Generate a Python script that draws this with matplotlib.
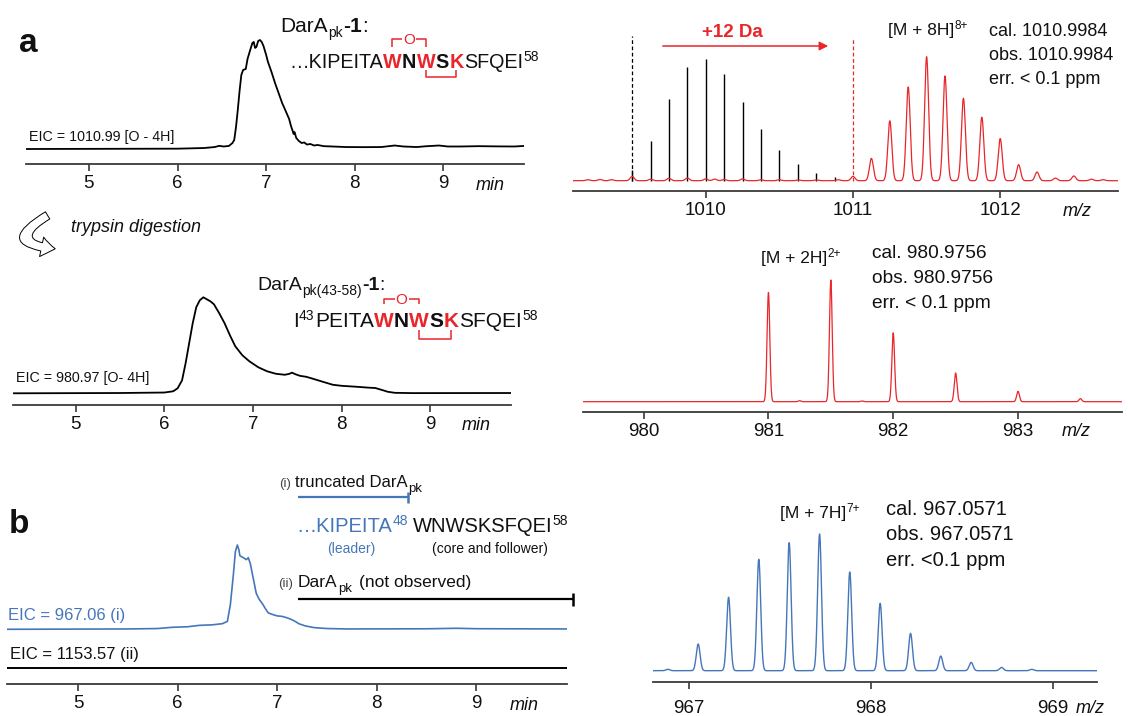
import matplotlib
matplotlib.use('Agg')
import numpy as np
import matplotlib.pyplot as plt
from matplotlib.lines import Line2D
from matplotlib.patches import FancyArrowPatch
from matplotlib.transforms import IdentityTransform

plt.rcParams['font.family'] = ['Liberation Sans', 'DejaVu Sans']

RED = '#e8262b'
BLUE = '#4676ba'
AXC = '#3a3a3a'
INK = '#111111'

# ---------------- chromatograms (time / min, intensity in % of panel max)
t_a1 = [4.29, 6.00, 6.30, 6.42, 6.47, 6.52, 6.58, 6.62, 6.64, 6.66, 6.68, 6.70,
        6.72, 6.74, 6.77, 6.79, 6.82, 6.845, 6.86, 6.875, 6.89, 6.91, 6.93, 6.95,
        6.97, 7.00, 7.02, 7.06, 7.10, 7.14, 7.18, 7.21, 7.24, 7.26, 7.28, 7.30,
        7.31, 7.32, 7.34, 7.37, 7.40, 7.43, 7.46, 7.50, 7.54, 7.58, 7.65, 7.75,
        7.90, 8.10, 8.30, 8.45, 8.55, 8.70, 8.80, 8.95, 9.05, 9.20, 9.40, 9.60,
        9.80, 9.91]
i_a1 = [0, 0.3, 0.9, 1.8, 2.9, 2.3, 2.8, 5.5, 8.3, 20.2, 35.8, 53.2,
        67.9, 72.5, 73.4, 82.6, 90.8, 97.2, 98.2, 92.7, 93.6, 99.1, 100, 98.2,
        94.5, 86.4, 80, 70.8, 60.6, 51.5, 42.3, 36.8, 31.2, 27.4, 21.2, 16.4,
        13.8, 15.6, 10.1, 7.3, 5.5, 6, 4.1, 4.6, 3.2, 3.7, 2.6, 2.3,
        1.8, 1.7, 1.8, 3.2, 2.3, 1.8, 2.5, 3.2, 2.3, 2.3, 2.6, 2.4,
        2.3, 2.8]

t_a2 = [4.29, 5.50, 6.00, 6.10, 6.15, 6.20, 6.24, 6.28, 6.32, 6.36, 6.40, 6.44,
        6.48, 6.52, 6.56, 6.62, 6.68, 6.74, 6.80, 6.88, 6.96, 7.06, 7.16, 7.26,
        7.36, 7.41, 7.44, 7.48, 7.53, 7.60, 7.66, 7.77, 7.90, 8.00, 8.17, 8.30,
        8.38, 8.45, 8.52, 8.60, 8.80, 9.91]
i_a2 = [0, 0.3, 0.8, 2.1, 5.2, 13.5, 31.3, 52.1, 72.9, 89.6, 96.9, 100,
        97.9, 95.8, 92.7, 83.3, 72.9, 60.4, 49, 39.6, 33.3, 27.1, 22.9, 20.3,
        19.3, 20.3, 21.5, 19.8, 18.2, 17.2, 15.6, 12.5, 8.9, 7.8, 6.8, 5.9,
        5.5, 3.6, 1.6, 0.5, 0.2, 0.3]

t_b1 = [4.29, 5.50, 5.80, 5.95, 6.10, 6.22, 6.35, 6.45, 6.50, 6.53, 6.56, 6.58,
        6.60, 6.615, 6.625, 6.64, 6.66, 6.69, 6.71, 6.73, 6.75, 6.77, 6.79, 6.82,
        6.85, 6.88, 6.91, 6.95, 7.00, 7.05, 7.10, 7.14, 7.18, 7.22, 7.28, 7.37,
        7.50, 7.70, 8.50, 8.80, 9.00, 9.91]
i_b1 = [0, 0.4, 0.9, 2.4, 3, 4.7, 5.3, 6.7, 9.4, 29.5, 64.9, 92.1,
        100, 94.5, 87.4, 86.2, 85, 82.6, 85, 77.9, 66.1, 54.3, 42.5, 35.4,
        30.7, 24.8, 19.5, 17.7, 15.9, 15.3, 13.6, 11.8, 9.4, 6.5, 4.1, 2,
        0.9, 0.4, 0.6, 1.2, 0.7, 0.4]
t_b2 = [4.29, 9.91]
i_b2 = [0, 0]

min_ticks = [5, 6, 7, 8, 9]

# ---------------- mass spectra (m/z, intensity in % of panel max)
mz_theo = [1009.5, 1009.625, 1009.75, 1009.875, 1010.0, 1010.125, 1010.25,
           1010.375, 1010.5, 1010.625, 1010.75, 1010.875]
int_theo = [8.8, 32.4, 66.0, 92.0, 97.9, 85.8, 63.8, 41.8, 24.7, 13.1, 6.4, 2.9]

mz_a1 = [1011.0, 1011.125, 1011.25, 1011.375, 1011.5, 1011.625, 1011.75,
         1011.875, 1012.0, 1012.125, 1012.25, 1012.375, 1012.5]
int_a1 = [3.5, 18.0, 48.3, 75.6, 100, 84.5, 66.5, 51.2, 34.0, 12.9, 7.0, 2.1, 3.8]
mz_a1_minor = [1009.20, 1009.28, 1009.36, 1009.5, 1009.625, 1009.75, 1009.875,
               1010.0, 1010.06, 1010.125, 1010.25, 1010.375, 1010.5, 1010.63,
               1010.75, 1010.9, 1012.62, 1012.70]
int_a1_minor = [0.8, 1.0, 0.8, 3.5, 1.2, 2.0, 2.2, 1.5, 1.3, 1.0, 1.5, 0.8,
                0.8, 0.6, 0.6, 0.8, 1.2, 0.8]
mz_marks = [1009.5, 1011.0]

mz_a2 = [981.0, 981.25, 981.5, 981.75, 982.0, 982.5, 983.0, 983.5]
int_a2 = [89.8, 0.8, 100, 0.6, 56.6, 23.6, 8.5, 2.5]

mz_b = [966.883, 967.05, 967.217, 967.383, 967.55, 967.717, 967.883, 968.05,
        968.217, 968.383, 968.55, 968.717, 968.883]
int_b = [1.0, 19.5, 53.7, 81.5, 93.7, 100, 72.2, 49.3, 27.3, 10.7, 6.1, 2.4, 1.0]

W, H = 1128, 716
fig = plt.figure(figsize=(W / 100, H / 100), dpi=100)
PX = IdentityTransform()
R = fig.canvas.get_renderer()
TICK_FS = 13.5


def put(x, y, s, size, **kw):
    kw.setdefault('color', INK)
    kw.setdefault('va', 'baseline')
    return fig.text(x, H - y, s, transform=PX, fontsize=size, **kw)


def rich(x, y, parts, size, color=INK):
    # parts: (text, style) ; text None means a gap in px
    spans = []
    for s, st in parts:
        st = dict(st)
        if s is None:
            x += st['gap']
            spans.append((x, x))
            continue
        fs = st.pop('size', size)
        dy = st.pop('dy', 0)
        st.setdefault('color', color)
        t = fig.text(x, H - y + dy, s, transform=PX, fontsize=fs,
                     va='baseline', ha='left', **st)
        w = t.get_window_extent(R).width
        spans.append((x, x + w))
        x += w + 0.3
    return spans


def pline(xs, ys, color, lw):
    fig.add_artist(Line2D(xs, [H - v for v in ys], transform=PX, color=color,
                          lw=lw, solid_capstyle='butt'))


def panel(x0, x1, y_axis, y_base, y_peak, y_top, xlim, ticks, pad):
    ax = fig.add_axes([x0 / W, (H - y_axis) / H, (x1 - x0) / W, (y_axis - y_top) / H])
    k = (y_base - y_peak) / 100.0
    ax.set_ylim(-(y_axis - y_base) / k, (y_base - y_top) / k)
    ax.set_xlim(xlim)
    for s in ['left', 'right', 'top']:
        ax.spines[s].set_visible(False)
    ax.spines['bottom'].set_color(AXC)
    ax.spines['bottom'].set_linewidth(1.3)
    ax.set_yticks([])
    ax.set_xticks(ticks)
    ax.set_xticklabels([str(v) for v in ticks])
    ax.tick_params(axis='x', length=5, width=1.2, color=AXC, labelsize=TICK_FS,
                   pad=pad, labelcolor=INK)
    ax.patch.set_alpha(0)
    return ax, k


def profile(ax, mz, inten, sigma, color, lw):
    x = np.linspace(ax.get_xlim()[0], ax.get_xlim()[1], 4000)
    y = np.zeros_like(x)
    for m, h in zip(mz, inten):
        y += h * np.exp(-0.5 * ((x - m) / sigma) ** 2)
    ax.plot(x, y, color=color, lw=lw)


# ---------------- panel a, chromatograms
ax1, k1 = panel(26, 524, 164, 149, 40, 20, (4.29, 9.91), min_ticks, 3.0)
ax1.plot(t_a1, i_a1, color='black', lw=1.3)
put(490, 190, 'min', 13, ha='center', style='italic')
put(28.6, 140.7, 'EIC = 1010.99 [O - 4H]', 10.3)

ax2, k2 = panel(12.7, 511, 405.3, 393.3, 297.3, 280, (4.29, 9.91), min_ticks, 3.0)
ax2.plot(t_a2, i_a2, color='black', lw=1.3)
put(476, 430.5, 'min', 13, ha='center', style='italic')
put(16, 381.7, 'EIC = 980.97 [O- 4H]', 10.3)

# ---------------- panel b, chromatograms
ax3, k3 = panel(7.3, 567, 684, 629.3, 545, 530, (4.29, 9.91), min_ticks, 3.0)
ax3.plot(t_b1, i_b1, color=BLUE, lw=1.2)
off = -(667.7 - 629.3) / k3
ax3.plot(t_b2, [v + off for v in i_b2], color='black', lw=1.4)
put(524, 709.5, 'min', 13, ha='center', style='italic')
put(8.4, 620, 'EIC = 967.06 (i)', 12, color=BLUE)
put(10, 659.3, 'EIC = 1153.57 (ii)', 12)

# ---------------- spectra
ax4, k4 = panel(572.7, 1118, 191, 180.7, 56.7, 25, (1009.096, 1012.80),
                [1010, 1011, 1012], 3.0)
ax4.vlines(mz_theo, 0, int_theo, color='black', lw=1.0)
profile(ax4, mz_a1 + mz_a1_minor, int_a1 + int_a1_minor, 0.0135, RED, 0.9)
ax4.vlines(mz_marks[0], 0, (180.7 - 36) / k4, color='black', lw=0.9,
           linestyles=(0, (3, 2)))
ax4.vlines(mz_marks[1], 0, (180.7 - 38) / k4, color=RED, lw=0.9,
           linestyles=(0, (3, 2)))
put(1077, 216.5, 'm/z', 13, ha='center', style='italic')

ax5, k5 = panel(582.5, 1121.6, 411.7, 401.7, 280, 270, (979.51, 983.83),
                [980, 981, 982, 983], 3.0)
profile(ax5, mz_a2, int_a2, 0.011, RED, 0.9)
put(1076.7, 436.5, 'm/z', 13, ha='center', style='italic')

ax6, k6 = panel(652.7, 1096.7, 681.7, 670.7, 534, 520, (966.80, 969.24),
                [967, 968, 969], 8.0)
profile(ax6, mz_b, int_b, 0.0105, BLUE, 1.0)
put(1090, 713, 'm/z', 13, ha='center', style='italic')

# ---------------- panel letters
put(19, 51.7, 'a', 24, weight='bold')
put(8.4, 533, 'b', 24, weight='bold')

# ---------------- sequence labels, panel a
B = {'weight': 'bold'}
RB = {'weight': 'bold', 'color': RED}
SUP = {'size': 10, 'dy': 7}

rich(280, 31.7, [('DarA', {}), ('pk', {'size': 10, 'dy': -5}), ('-1', B), (':', {})], 15)
sp = rich(289, 68.3, [('\u2026KIPEITA', {}), ('W', RB), ('N', B), ('W', RB), ('S', B),
                      ('K', RB), ('SFQEI', {}), ('58', SUP)], 14.2)


def brackets(sp, base, up_h, up_v, lo_v, lo_h):
    w1 = sum(sp[1]) / 2
    w2 = sum(sp[3]) / 2
    kk = sum(sp[5]) / 2
    mid = (w1 + w2) / 2
    pline([w1, w1, mid - 7], [base - up_v, base - up_h, base - up_h], RED, 1.1)
    pline([mid + 7, w2, w2], [base - up_h, base - up_h, base - up_v], RED, 1.1)
    put(mid, base - up_h + 4.5, 'O', 11, color=RED, ha='center')
    pline([w2, w2, kk, kk], [base + lo_v, base + lo_h, base + lo_h, base + lo_v], RED, 1.1)


brackets(sp, 68.3, 29, 21.6, 1.7, 9)

rich(257, 290, [('DarA', {}), ('pk(43-58)', {'size': 10, 'dy': -5}), ('-1', B),
                (':', {})], 14)
sp2 = rich(293, 327.3, [('I', {}), ('43', SUP), ('PEITA', {}), ('W', RB), ('N', B),
                        ('W', RB), ('S', B), ('K', RB), ('SFQEI', {}), ('58', SUP)], 15)
brackets([sp2[0]] + sp2[3:], 327.3, 28, 23.3, 2.7, 11.7)

# trypsin step
fig.add_artist(FancyArrowPatch((50, H - 214), (58, H - 249), transform=PX,
                               connectionstyle='arc3,rad=1.6',
                               arrowstyle='simple,head_width=1.3,head_length=0.9,tail_width=0.55',
                               mutation_scale=11, facecolor='white',
                               edgecolor='black', lw=0.7))
put(71.4, 232, 'trypsin digestion', 13, style='italic')

# ---------------- panel b labels
rich(279, 487, [('(i)', {'size': 9.5, 'color': '#444444'}), (None, {'gap': 4}),
                ('truncated DarA', {}), ('pk', {'size': 9.5, 'dy': -5})], 12)
pline([297.7, 407.6], [497.3, 497.3], BLUE, 1.6)
pline([407.6, 407.6], [491.5, 503], BLUE, 1.8)
rich(296.6, 531.7, [('\u2026KIPEITA', {'color': BLUE}),
                    ('48', {'size': 10, 'dy': 7, 'color': BLUE}), (None, {'gap': 4}),
                    ('WNWSKSFQEI', {}), ('58', SUP)], 14.5)
put(351, 553, '(leader)', 10, color=BLUE, ha='center')
put(490, 553, '(core and follower)', 10, ha='center')
rich(278.6, 586.7, [('(ii)', {'size': 9.5, 'color': '#444444'}), (None, {'gap': 4}),
                    ('DarA', {}), ('pk', {'size': 9.5, 'dy': -5}), (None, {'gap': 7}),
                    ('(not observed)', {})], 12.5)
pline([297.7, 573], [599, 599], 'black', 1.6)
pline([573, 573], [592.5, 605.5], 'black', 1.8)

# ---------------- spectra annotations
put(732, 37.3, '+12 Da', 13.5, color=RED, weight='bold', ha='center')
fig.add_artist(FancyArrowPatch((660, H - 46), (831, H - 46), transform=PX,
                               arrowstyle='-|>', mutation_scale=13, color=RED, lw=1.1))
rich(888, 35, [('[M + 8H]', {}), ('8+', {'size': 8.5, 'dy': 6})], 12.5)
for yy, s in zip([36, 60, 84], ['cal. 1010.9984', 'obs. 1010.9984', 'err. < 0.1 ppm']):
    put(988.6, yy, s, 13)

rich(761, 263, [('[M + 2H]', {}), ('2+', {'size': 8.5, 'dy': 6})], 12.5)
for yy, s in zip([258, 283, 308], ['cal. 980.9756', 'obs. 980.9756', 'err. < 0.1 ppm']):
    put(872, yy, s, 13.8)

rich(780, 518, [('[M + 7H]', {}), ('7+', {'size': 8.5, 'dy': 6})], 12.5)
for yy, s in zip([515, 540, 566], ['cal. 967.0571', 'obs. 967.0571', 'err. <0.1 ppm']):
    put(886, yy, s, 14.5)

fig.savefig('out.png', dpi=100)
